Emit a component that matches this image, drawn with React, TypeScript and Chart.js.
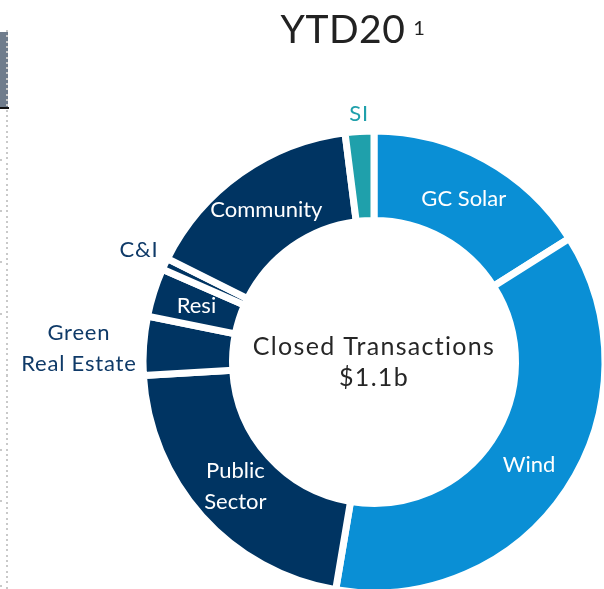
import React, { useEffect, useRef } from 'react';
import { Chart, registerables } from 'chart.js';

Chart.register(...registerables);

// ---- data ----
const categories = ['GC Solar', 'Wind', 'Public Sector', 'Green Real Estate', 'Resi', 'C&I', 'Community', 'SI'];
const shares = [16.0, 36.6, 21.4, 4.1, 3.4, 0.8, 15.6, 2.0];
const labelLines = [['GC Solar'], ['Wind'], ['Public', 'Sector'], ['Green', 'Real Estate'], ['Resi'], ['C&I'], ['Community'], ['SI']];
const labelInside = [true, true, true, false, true, false, true, false];
const titleText = 'YTD20';
const titleSup = '1';
const centerLines = ['Closed Transactions', '$1.1b'];
const leftTicks = [159, 210, 261, 313, 449, 500, 585];

// ---- styles ----
const BLUE = '#0A8FD5';
const NAVY = '#003462';
const TEAL = '#1FA0AB';
const sliceColors = [BLUE, BLUE, NAVY, NAVY, NAVY, NAVY, NAVY, TEAL];
const outsideColors = ['#0F3A68', '#0F3A68', '#0F3A68', '#0F3A68', '#0F3A68', '#0F3A68', '#0F3A68', TEAL];
const FONT = 'Lato, "Open Sans", sans-serif';
const OFFSET_X = 6; // canvas coord = page coord + offset
const OFFSET_Y = 18;

const labelPlugin = {
  id: 'sliceLabels',
  afterDatasetsDraw(chart: any) {
    const ctx = chart.ctx as any;
    const meta = chart.getDatasetMeta(0);
    ctx.save();
    const lh = 31;
    meta.data.forEach((arc: any, i: number) => {
      const p = arc.getProps(['x', 'y', 'startAngle', 'endAngle', 'innerRadius', 'outerRadius'], true);
      const mid = (p.startAngle + p.endAngle) / 2;
      const lines = labelLines[i];
      ctx.font = `22px ${FONT}`;
      ctx.textBaseline = 'middle';
      ctx.textAlign = 'center';
      if (labelInside[i]) {
        ctx.letterSpacing = '0px';
        const r = (p.innerRadius + p.outerRadius) / 2;
        const cx = p.x + Math.cos(mid) * r;
        const cy = p.y + Math.sin(mid) * r;
        ctx.fillStyle = '#ffffff';
        lines.forEach((t, k) => {
          ctx.fillText(t, cx, cy + (k - (lines.length - 1) / 2) * lh);
        });
      } else {
        ctx.letterSpacing = '0.8px';
        const r = p.outerRadius + 7;
        const ax = p.x + Math.cos(mid) * r;
        const ay = p.y + Math.sin(mid) * r;
        const c = Math.cos(mid);
        const s = Math.sin(mid);
        const bw = Math.max(...lines.map((t) => ctx.measureText(t).width));
        let bx = ax;
        if (c < -0.5) bx = ax - bw / 2;
        else if (c > 0.5) bx = ax + bw / 2;
        const blockH = lines.length * lh - 9;
        let cy = ay;
        if (s < -0.3) cy = ay - blockH / 2;
        else if (s > 0.3) cy = ay + blockH / 2;
        if (lines.length > 1) cy += 3;
        ctx.fillStyle = outsideColors[i];
        lines.forEach((t, k) => {
          ctx.fillText(t, bx, cy + (k - (lines.length - 1) / 2) * lh);
        });
      }
    });

    // centre text
    const c0 = meta.data[0];
    const cx = c0.x;
    const cy = c0.y;
    ctx.fillStyle = '#262626';
    ctx.textAlign = 'center';
    ctx.textBaseline = 'alphabetic';
    ctx.letterSpacing = '1.3px';
    ctx.font = `25px ${FONT}`;
    ctx.fillText(centerLines[0], cx, cy - 7);
    ctx.fillText(centerLines[1], cx, cy + 24);

    // title
    ctx.letterSpacing = '0.5px';
    ctx.fillStyle = '#222222';
    ctx.font = `39px ${FONT}`;
    const w1 = ctx.measureText(titleText).width;
    ctx.font = `20px ${FONT}`;
    const w2 = ctx.measureText(titleSup).width;
    const gap = 8;
    const tx = 353 + OFFSET_X - (w1 + w2 + gap) / 2;
    const ty = 43 + OFFSET_Y;
    ctx.textAlign = 'left';
    ctx.font = `39px ${FONT}`;
    ctx.fillText(titleText, tx, ty);
    ctx.font = `20px ${FONT}`;
    ctx.fillText(titleSup, tx + w1 + gap, ty - 8);
    ctx.restore();
  },
};

export default function App() {
  const ref = useRef<HTMLCanvasElement>(null);
  useEffect(() => {
    const canvas = ref.current!;
    const chart = new Chart(canvas, {
      type: 'doughnut',
      data: {
        labels: categories,
        datasets: [
          {
            data: shares,
            backgroundColor: sliceColors,
            borderColor: '#ffffff',
            borderWidth: 7,
            borderAlign: 'center',
            hoverOffset: 0,
          } as any,
        ],
      },
      options: {
        responsive: false,
        animation: false,
        radius: 231,
        cutout: '61.26%',
        layout: { padding: 0 },
        events: [],
        plugins: {
          legend: { display: false },
          tooltip: { enabled: false },
          title: { display: false },
        },
      } as any,
      plugins: [labelPlugin],
    });
    return () => chart.destroy();
  }, []);

  return (
    <div style={{ position: 'fixed', left: 0, top: 0, width: 604, height: 589, overflow: 'hidden', background: '#ffffff' }}>
      <div style={{ position: 'absolute', left: 0, top: 32, width: 8, height: 75, background: '#6F7C8C' }} />
      <div style={{ position: 'absolute', left: 0, top: 107, width: 9, height: 2, background: '#111111' }} />
      <div
        style={{
          position: 'absolute',
          left: 6,
          top: 30,
          width: 2,
          height: 559,
          background: 'repeating-linear-gradient(to bottom, #C9C9C9 0px, #C9C9C9 2px, transparent 2px, transparent 5.3px)',
        }}
      />
      {leftTicks.map((y) => (
        <div key={y} style={{ position: 'absolute', left: 0, top: y, width: 2, height: 2, background: '#C9C9C9' }} />
      ))}
      <canvas
        ref={ref}
        width={760}
        height={760}
        style={{ position: 'absolute', left: -OFFSET_X, top: -OFFSET_Y, width: 760, height: 760 }}
      />
    </div>
  );
}
